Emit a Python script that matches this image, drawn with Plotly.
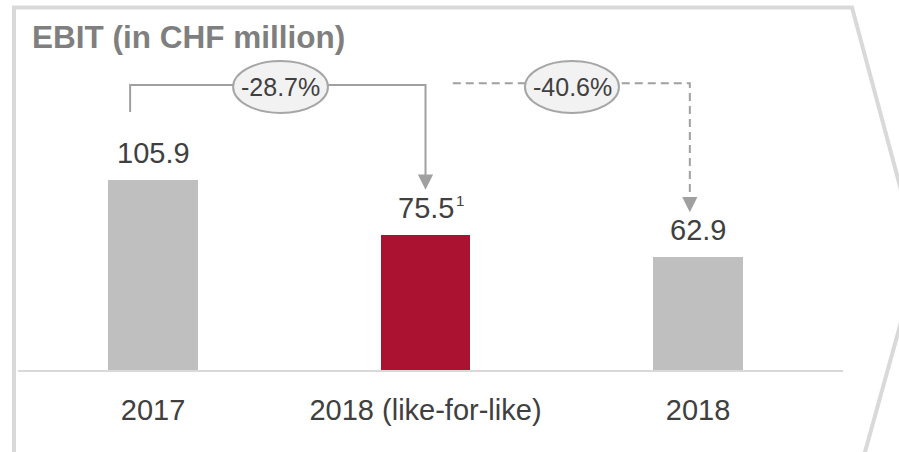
import plotly.graph_objects as go

categories = ["2017", "2018 (like-for-like)", "2018"]
values = [105.9, 75.5, 62.9]
footnotes = ["", "1", ""]
bar_colors = ["#bfbfbf", "#ab1232", "#bfbfbf"]
title_text = "EBIT (in CHF million)"

FONT = "Liberation Sans, Arial, sans-serif"
TXT = "#404040"
LINE = "#a0a0a0"

# plot area geometry (pixels) used only for decorative frame placement
W, H = 899, 452
ML, MR, MT, MB = 18, 56, 10, 82
PW, PH = W - ML - MR, H - MT - MB

def px(x, y):
    return (x - ML) / PW, (H - MB - y) / PH

x_idx = list(range(len(categories)))

fig = go.Figure()
fig.add_trace(go.Bar(
    x=x_idx, y=values, width=0.33, marker=dict(color=bar_colors, line=dict(width=0)),
    hoverinfo="skip", showlegend=False,
))

# value labels
for i, (v, fn) in enumerate(zip(values, footnotes)):
    fig.add_annotation(x=i, y=v, text=f"{v:.1f}", showarrow=False, yanchor="middle",
                       yshift=27, font=dict(family=FONT, size=29, color=TXT))
    if fn:
        fig.add_annotation(x=i, y=v, text=fn, showarrow=False, yanchor="middle",
                           xanchor="left", xshift=28, yshift=34,
                           font=dict(family=FONT, size=15, color=TXT))

# change connectors
bracket_y = 158.9
ell_y0, ell_y1 = 143.3, 172.2
tip_gap = 25

def pct(a, b):
    return f"{(b / a - 1) * 100:.1f}%"

# connector 1: 2017 -> 2018 lfl (solid)
x_a, x_b = -0.084, 1.0
fig.add_shape(type="path", xref="x", yref="y",
              path=f"M {x_a},{143.8} L {x_a},{bracket_y} L {x_b},{bracket_y} L {x_b},{values[1] + tip_gap + 8}",
              line=dict(color=LINE, width=2))
fig.add_shape(type="path", xref="x", yref="y",
              path=f"M {x_b - 0.028},{values[1] + tip_gap + 8.5} L {x_b + 0.028},{values[1] + tip_gap + 8.5} L {x_b},{values[1] + tip_gap} Z",
              fillcolor=LINE, line=dict(color=LINE, width=0))
fig.add_shape(type="circle", xref="x", yref="y", x0=0.294, x1=0.642, y0=ell_y0, y1=ell_y1,
              fillcolor="#f2f2f2", line=dict(color="#a6a6a6", width=2))
fig.add_annotation(x=0.468, y=(ell_y0 + ell_y1) / 2, text=pct(values[0], values[1]), showarrow=False,
                   font=dict(family=FONT, size=25, color=TXT))

# connector 2: 2017 -> 2018 (dashed)
x_c, x_d = 1.10, 1.97
fig.add_shape(type="path", xref="x", yref="y",
              path=f"M {x_c},{bracket_y + 1} L {x_d},{bracket_y + 1} L {x_d},{values[2] + tip_gap + 8}",
              line=dict(color=LINE, width=2, dash="8px,5px"))
fig.add_shape(type="path", xref="x", yref="y",
              path=f"M {x_d - 0.028},{values[2] + tip_gap + 8.5} L {x_d + 0.028},{values[2] + tip_gap + 8.5} L {x_d},{values[2] + tip_gap} Z",
              fillcolor=LINE, line=dict(color=LINE, width=0))
fig.add_shape(type="circle", xref="x", yref="y", x0=1.365, x1=1.710, y0=ell_y0, y1=ell_y1,
              fillcolor="#f2f2f2", line=dict(color="#a6a6a6", width=2))
fig.add_annotation(x=1.538, y=(ell_y0 + ell_y1) / 2, text=pct(values[0], values[2]), showarrow=False,
                   font=dict(family=FONT, size=25, color=TXT))

# frame (chevron outline)
pts = [px(14, 470), px(14, 7.5), px(852, 7.5), px(919, 257), px(860, 470)]
path = "M " + " L ".join(f"{a:.5f},{b:.5f}" for a, b in pts)
fig.add_shape(type="path", xref="paper", yref="paper", path=path,
              line=dict(color="#d9d9d9", width=4), layer="below")

# title
tx, ty = px(30, 37)
fig.add_annotation(xref="paper", yref="paper", x=tx, y=ty, xanchor="left", yanchor="middle",
                   text=f"<b>{title_text}</b>", showarrow=False,
                   font=dict(family=FONT, size=31.5, color="#7f7f7f"))

x0 = (ML - 153) / 272.5
x1 = (W - MR - 153) / 272.5
fig.update_layout(
    width=W, height=H, margin=dict(l=ML, r=MR, t=MT, b=MB),
    paper_bgcolor="white", plot_bgcolor="white",
    xaxis=dict(range=[x0, x1], tickvals=x_idx, ticktext=categories, showgrid=False, zeroline=False,
               showline=True, linecolor="#d9d9d9", linewidth=2, ticks="outside", ticklen=13,
               tickcolor="rgba(0,0,0,0)", tickfont=dict(family=FONT, size=29, color=TXT)),
    yaxis=dict(range=[0, PH / 1.794], visible=False),
    bargap=0,
)

fig.write_html("out.html")
